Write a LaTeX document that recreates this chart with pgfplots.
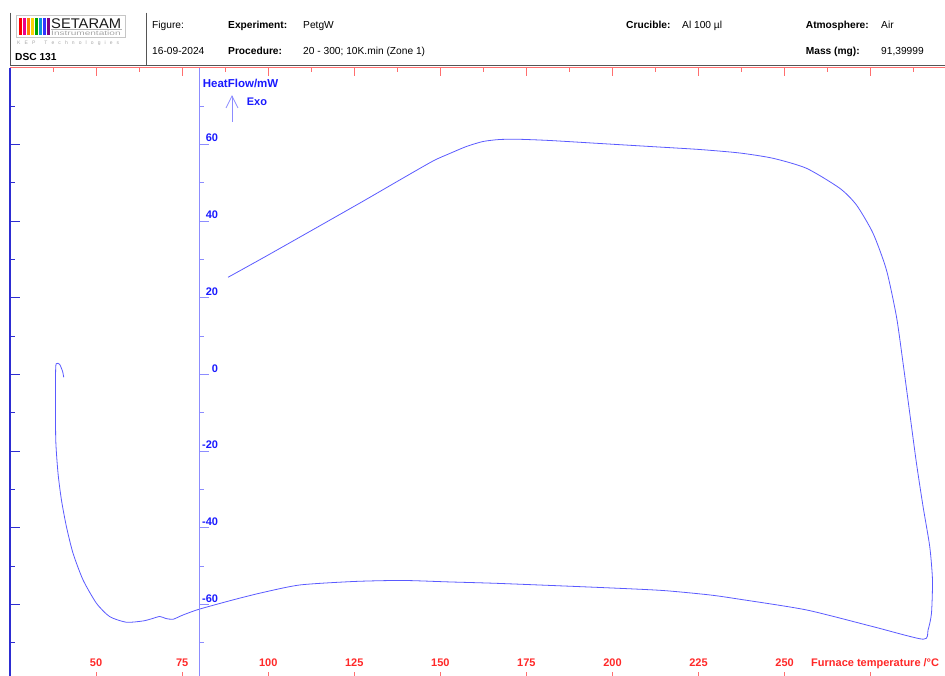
\documentclass[border=0pt]{standalone}
\usepackage{fontspec}
\setmainfont{Liberation Sans}
\usepackage{graphicx}
\usepackage{pgfplots}
\pgfplotsset{compat=1.18}
\definecolor{curveblue}{RGB}{90,90,255}
\definecolor{innerblue}{RGB}{140,140,255}
\definecolor{leftblue}{RGB}{45,45,210}
\definecolor{labblue}{RGB}{25,25,255}
\definecolor{labred}{RGB}{255,40,40}
\definecolor{axred}{RGB}{255,110,110}
\definecolor{hdr}{RGB}{85,85,85}
\newcommand\hf{\fontsize{10.2}{12}\selectfont}
\begin{document}
\begin{tikzpicture}[x=1pt,y=1pt]
\path[use as bounding box] (0,0) rectangle (945,675);
% ---- header ----
\draw[hdr, line width=0.9pt] (10,662.3) -- (10,610);
\draw[hdr, line width=0.9pt] (146,662.3) -- (146,610);
\draw[hdr, line width=0.9pt] (10,610) -- (945,610);
% logo
\draw[gray!45, line width=0.6pt] (16,660) rectangle (125.7,637.7);
\foreach \i/\c in {0/red, 1/magenta, 2/orange, 3/yellow!70!orange, 4/green!65!black, 5/cyan!80!blue, 6/blue!80, 7/violet}
  \fill[\c] ({19+4*\i},640) rectangle ({22+4*\i},657);
\node[anchor=base west, inner sep=0pt, text=gray!20!black] at (51,646.7) {\scalebox{1.05}[1]{\fontsize{14}{14}\selectfont SETARAM}};
\draw[gray!60, line width=0.5pt] (51,645.3) -- (122,645.3);
\node[anchor=base west, inner sep=0pt, text=gray!70] at (51,639.5) {\scalebox{1.55}[1]{\fontsize{6.5}{6.5}\selectfont Instrumentation}};
\node[anchor=base west, inner sep=0pt, text=gray!70] at (17,630.5) {\fontsize{5}{5}\selectfont K\hspace{4.1pt}E\hspace{4.1pt}P\hspace{9pt}T\hspace{4.1pt}e\hspace{4.1pt}c\hspace{4.1pt}h\hspace{4.1pt}n\hspace{4.1pt}o\hspace{4.1pt}l\hspace{4.1pt}o\hspace{4.1pt}g\hspace{4.1pt}i\hspace{4.1pt}e\hspace{4.1pt}s};
\node[anchor=base west, inner sep=0pt] at (15,614) {\hf\bfseries DSC 131};
\begin{scope}[every node/.style={anchor=base west, inner sep=0pt, font=\hf}]
\node at (152,646.7) {Figure:};
\node at (228,646.7) {\bfseries Experiment:};
\node at (303,646.7) {PetgW};
\node at (626,646.7) {\bfseries Crucible:};
\node at (682,646.7) {Al 100 µl};
\node at (805.7,646.7) {\bfseries Atmosphere:};
\node at (881,646.7) {Air};
\node at (152,620.7) {16-09-2024};
\node at (228,620.7) {\bfseries Procedure:};
\node at (303,620.7) {20 - 300; 10K.min (Zone 1)};
\node at (805.7,620.7) {\bfseries Mass (mg):};
\node at (881,620.7) {91,39999};
\end{scope}
% ---- axis A: x ticks, top line, curve ----
\begin{axis}[at={(10pt,-5pt)}, anchor=south west, scale only axis,
  width=935pt, height=612.4pt,
  xmin=25, xmax=296.6, ymin=-79.7, ymax=80,
  axis line style={draw=none},
  ytick=\empty,
  xtick={25,50,...,275},
  minor xtick={37.5,62.5,...,287.5},
  tick align=inside,
  major tick length=8.4pt, minor tick length=4.4pt,
  xtick style={color=axred, line width=0.8pt},
  xticklabels={{},50,75,100,125,150,175,200,225,250,{}},
  xticklabel style={anchor=base, yshift=14pt, inner sep=0pt, text=labred, font=\bfseries\fontsize{11}{13}\selectfont},
  clip=true]
\addplot[curveblue, line width=0.8pt, smooth, tension=0.4] coordinates {
(88.34,25.32) (99.49,30.87) (118.84,40.70) (128.54,45.66) (138.21,50.69)
(147.89,55.65) (152.74,57.60) (157.59,59.43) (162.41,60.73) (167.26,61.25)
(173.07,61.30) (181.79,60.99) (196.31,60.21) (210.84,59.43) (225.36,58.64)
(236.98,57.73) (246.65,56.35) (256.36,53.74) (266.03,48.53) (270.88,44.17)
(275.70,36.79) (279.59,27.22) (282.50,15.05) (284.42,2.89) (286.36,-10.14)
(288.31,-23.18) (290.23,-34.50) (292.17,-44.93) (292.96,-53.61) (292.67,-62.29)
(291.68,-66.65) (290.23,-69.07) (275.70,-65.79) (256.36,-61.43) (236.98,-58.64)
(228.27,-57.52) (214.50,-56.35) (196.31,-55.57) (167.26,-54.52) (152.74,-54.13)
(139.00,-53.74) (125.14,-54.00) (109.16,-54.92) (97.84,-57.00) (89.70,-58.83)
(79.91,-61.25) (75.27,-62.74) (72.36,-63.86) (70.24,-63.65) (68.50,-63.13)
(66.17,-63.73) (63.65,-64.30) (58.82,-64.64) (53.97,-63.18) (50.11,-59.69)
(46.22,-53.61) (43.31,-46.65) (41.39,-39.71) (39.94,-32.75) (38.95,-25.79)
(38.29,-17.11) (38.20,-4.07) (38.29,2.19) (38.58,2.84) (38.95,2.89)
(39.45,2.58) (39.94,1.59) (40.32,0.63) (40.61,-0.76)
};
\draw[axred, line width=0.9pt] (rel axis cs:0,1) -- (rel axis cs:1,1);
\end{axis}
% ---- axis C: left y axis (ticks only) ----
\begin{axis}[at={(10pt,-5pt)}, anchor=south west, scale only axis,
  width=935pt, height=612.4pt,
  xmin=25, xmax=296.6, ymin=-79.7, ymax=80,
  axis x line=none, axis y line*=left,
  y axis line style={leftblue, line width=1.1pt},
  ytick={-60,-40,...,60}, minor ytick={-70,-50,...,70},
  yticklabels={{},{},{},{},{},{},{}},
  tick align=inside,
  major tick length=10pt, minor tick length=5pt,
  ytick style={color=leftblue, line width=0.8pt}]
\end{axis}
% ---- axis B: inner y axis with labels ----
\begin{axis}[at={(199.3pt,-5pt)}, anchor=south west, scale only axis,
  width=745.6pt, height=612.4pt,
  xmin=80, xmax=296.6, ymin=-79.7, ymax=80,
  axis x line=none, axis y line*=left,
  y axis line style={innerblue, line width=0.9pt},
  ytick={-60,-40,...,60}, minor ytick={-70,-50,...,70},
  yticklabels={-60,-40,-20,0,20,40,60},
  yticklabel style={anchor=base east, xshift=19pt, yshift=2.3pt, inner sep=0pt, text=labblue, font=\bfseries\fontsize{11}{13}\selectfont},
  tick align=inside,
  major tick length=10pt, minor tick length=5pt,
  ytick style={color=innerblue, line width=0.8pt}]
\end{axis}
% ---- axis titles ----
\node[anchor=base west, inner sep=0pt, text=labblue, font=\bfseries\fontsize{11.5}{13}\selectfont] at (202.7,587) {HeatFlow/mW};
\node[anchor=base west, inner sep=0pt, text=labblue, font=\bfseries\fontsize{11}{13}\selectfont] at (246.7,569.3) {Exo};
\draw[innerblue, line width=0.8pt] (232,553) -- (232,579);
\draw[innerblue, line width=0.8pt] (226,567) -- (232,579) -- (238,567);
\node[anchor=base west, inner sep=0pt, text=labred, font=\bfseries\fontsize{11}{13}\selectfont] at (811,9) {Furnace temperature /°C};
\end{tikzpicture}
\end{document}
